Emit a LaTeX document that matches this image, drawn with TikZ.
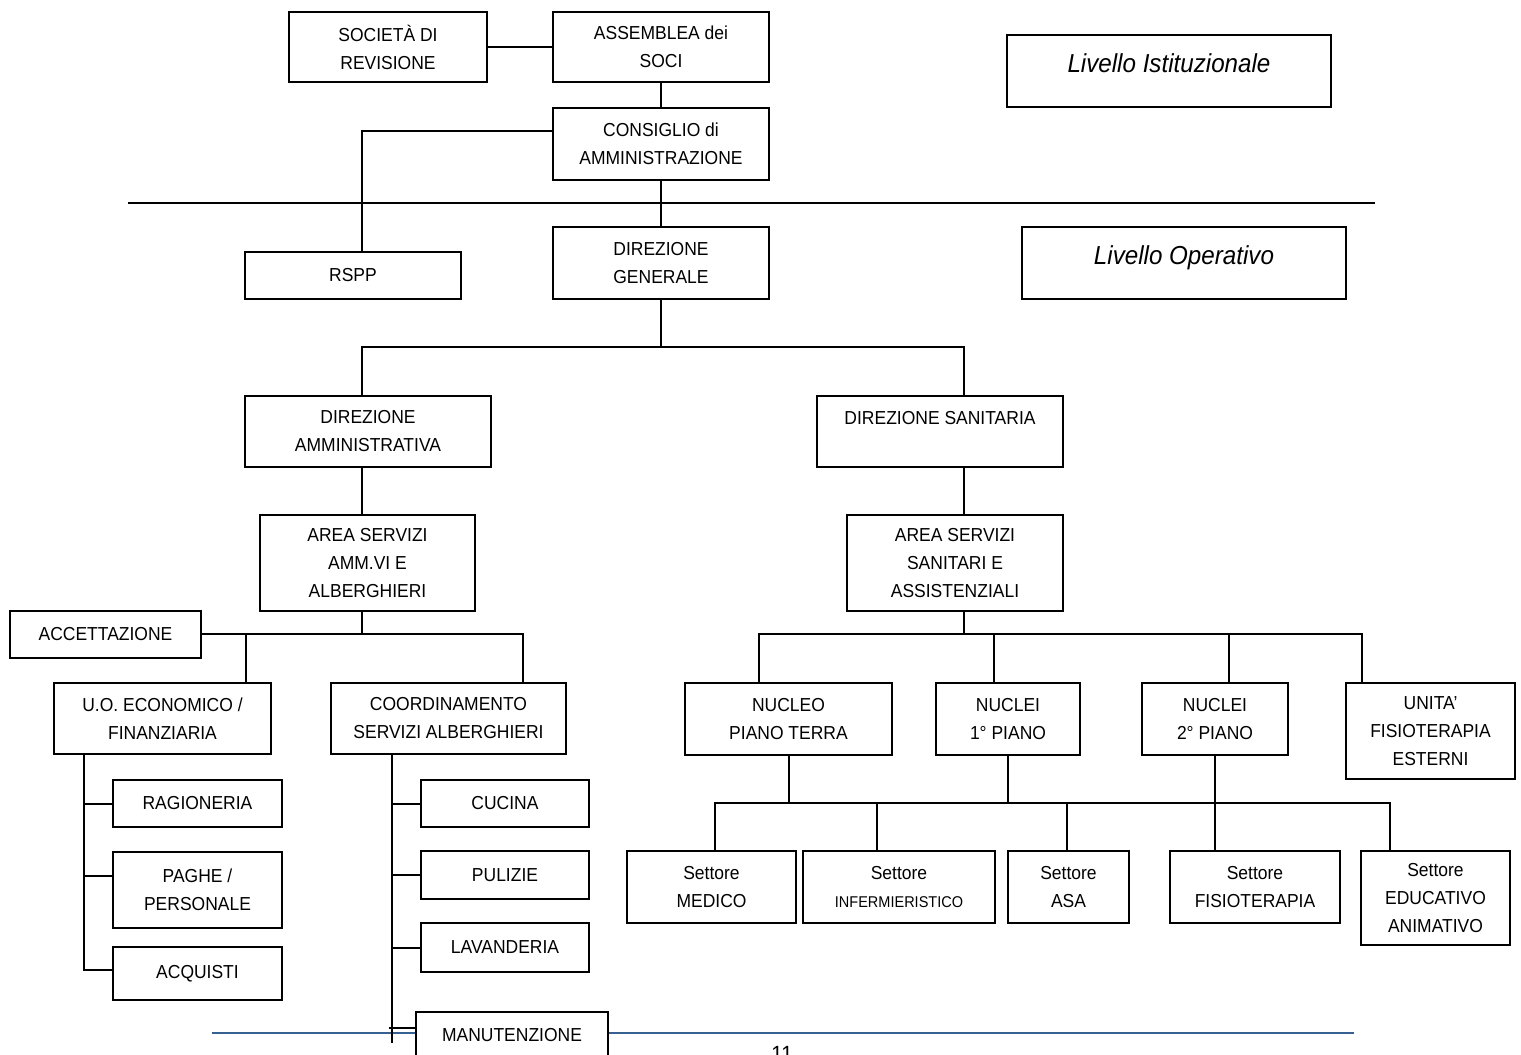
\documentclass[tikz,border=0pt]{standalone}
\usepackage{fontspec}
\setmainfont{Liberation Sans}[FakeStretch=0.93]
\definecolor{rulerblue}{RGB}{54, 96, 146}

\begin{document}
\begin{tikzpicture}[x=0.5pt, y=-0.5pt,
    box/.style={draw, line width=1pt, fill=white, inner sep=0pt, align=center,
      font=\fontsize{9.4}{14}\selectfont},
    sz/.style 2 args={minimum width=#1*0.5pt, minimum height=#2*0.5pt},
    level/.style={box, font=\fontsize{13}{16}\selectfont\itshape, text height=10pt, text depth=9pt},
    link/.style={line width=1pt}]
  \useasboundingbox (0,0) rectangle (1521,1055);

  % page rule and separator
  \coordinate (ruleL) at (212,1033);
  \coordinate (ruleR) at (1354,1033);
  \draw[rulerblue, line width=1.2pt] (ruleL) -- (ruleR);
  \coordinate (sepL) at (128,203);
  \coordinate (sepR) at (1375,203);
  \draw[link] (sepL) -- (sepR);

  % institutional level
  \node[box, sz={198}{70}] (soc) at (388,47) {SOCIETÀ DI\\REVISIONE};
  \node[box, sz={216}{70}] (assemblea) at (661,47) {ASSEMBLEA dei\\SOCI};
  \node[level, sz={324}{72}] (livIst) at (1169,71) {Livello Istituzionale};
  \node[box, sz={216}{72}] (consiglio) at (661,144) {CONSIGLIO di\\AMMINISTRAZIONE};

  % operational level
  \node[box, sz={216}{47}] (rspp) at (353,275.5) {RSPP};
  \node[box, sz={216}{72}] (dirgen) at (661,263) {DIREZIONE\\GENERALE};
  \node[level, sz={324}{72}] (livOp) at (1184,263) {Livello Operativo};
  \node[box, sz={246}{71}] (dirAmm) at (368,431.5) {DIREZIONE\\AMMINISTRATIVA};
  \node[box, sz={246}{71}] (dirSan) at (940,431.5) {DIREZIONE SANITARIA\\\mbox{}};
  \node[box, sz={215}{96}] (areaAmm) at (367.5,563) {AREA SERVIZI\\AMM.VI E\\ALBERGHIERI};
  \node[box, sz={216}{96}] (areaSan) at (955,563) {AREA SERVIZI\\SANITARI E\\ASSISTENZIALI};

  % administrative branch
  \node[box, sz={191}{47}] (accett) at (105.5,634) {ACCETTAZIONE};
  \node[box, sz={217}{71}] (uo) at (162.5,718.5) {U.O. ECONOMICO /\\FINANZIARIA};
  \node[box, sz={235}{71}] (coord) at (448.5,718.5) {COORDINAMENTO\\SERVIZI ALBERGHIERI};
  \node[box, sz={169}{47}] (ragioneria) at (197.5,803.5) {RAGIONERIA};
  \node[box, sz={169}{76}] (paghe) at (197.5,890) {PAGHE /\\PERSONALE};
  \node[box, sz={169}{53}] (acquisti) at (197.5,973.5) {ACQUISTI};
  \node[box, sz={168}{47}] (cucina) at (505,803.5) {CUCINA};
  \node[box, sz={168}{48}] (pulizie) at (505,875) {PULIZIE};
  \node[box, sz={168}{49}] (lavanderia) at (505,947.5) {LAVANDERIA};
  \node[box, sz={192}{46}] (manut) at (512,1035) {MANUTENZIONE};

  % sanitary branch
  \node[box, sz={207}{72}] (nucleoPT) at (788.5,719) {NUCLEO\\PIANO TERRA};
  \node[box, sz={144}{72}] (nuclei1) at (1008,719) {NUCLEI\\1° PIANO};
  \node[box, sz={146}{72}] (nuclei2) at (1215,719) {NUCLEI\\2° PIANO};
  \node[box, sz={169}{96}] (unita) at (1430.5,731) {UNITA’\\FISIOTERAPIA\\ESTERNI};
  \node[box, sz={169}{72}] (medico) at (711.5,887) {Settore\\MEDICO};
  \node[box, sz={192}{72}] (infermier) at (899,887) {Settore\\{\fontsize{7.8}{14}\selectfont INFERMIERISTICO}};
  \node[box, sz={121}{72}] (asa) at (1068.5,887) {Settore\\ASA};
  \node[box, sz={170}{72}] (fisio) at (1255,887) {Settore\\FISIOTERAPIA};
  \node[box, sz={149}{94}] (educ) at (1435.5,898) {Settore\\EDUCATIVO\\ANIMATIVO};

  \node[inner sep=0pt, anchor=north, font=\fontsize{11}{13}\selectfont] (pageNo) at (782,1046) {11};

  % top connectors
  \draw[link] (soc.east) -- (assemblea.west);
  \draw[link] (assemblea) -- (consiglio);
  \draw[link] (consiglio) -- (dirgen);
  \draw[link] (consiglio.west |- 0,131) -| (rspp.north -| 362,0);
  \coordinate (busDG) at (661,347);
  \draw[link] (dirgen) -- (busDG);
  \draw[link] (dirAmm.north -| 362,0) |- (busDG) -| (dirSan.north -| 964,0);
  \draw[link] (dirAmm.south -| 362,0) -- (areaAmm.north -| 362,0);
  \draw[link] (dirSan.south -| 964,0) -- (areaSan.north -| 964,0);

  % administrative connectors
  \coordinate (busA) at (362,634);
  \draw[link] (areaAmm.south -| busA) -- (busA);
  \draw[link] (accett.east) -- (accett.east -| 523,0) -- (coord.north -| 523,0);
  \draw[link] (busA -| 246,0) -- (uo.north -| 246,0);
  \coordinate (uoEnd) at (84,970);
  \draw[link] (uo.south -| uoEnd) -- (uoEnd) -- (acquisti.west |- uoEnd);
  \draw[link] (ragioneria.west) -- (ragioneria.west -| uoEnd);
  \draw[link] (paghe.west |- 0,876) -- (uoEnd |- 0,876);
  \coordinate (coEnd) at (392,1043);
  \draw[link] (coord.south -| coEnd) -- (coEnd);
  \draw[link] (cucina.west) -- (cucina.west -| coEnd);
  \draw[link] (pulizie.west) -- (pulizie.west -| coEnd);
  \draw[link] (lavanderia.west) -- (lavanderia.west -| coEnd);
  \draw[link] (manut.west |- 0,1028) -- (389,1028);

  % sanitary connectors
  \coordinate (busS) at (964,634);
  \draw[link] (areaSan.south -| busS) -- (busS);
  \draw[link] (nucleoPT.north -| 759,0) |- (busS) -| (unita.north -| 1362,0);
  \draw[link] (busS -| 994,0) -- (nuclei1.north -| 994,0);
  \draw[link] (busS -| 1229,0) -- (nuclei2.north -| 1229,0);
  \coordinate (busN) at (1008,803);
  \draw[link] (nucleoPT.south) -- (nucleoPT.south |- busN);
  \draw[link] (nuclei1.south) -- (busN);
  \draw[link] (nuclei2.south) -- (fisio.north -| nuclei2.south);
  \draw[link] (medico.north -| 715,0) |- (busN) -| (educ.north -| 1390,0);
  \draw[link] (busN -| 877,0) -- (infermier.north -| 877,0);
  \draw[link] (busN -| 1067,0) -- (asa.north -| 1067,0);
\end{tikzpicture}
\end{document}
